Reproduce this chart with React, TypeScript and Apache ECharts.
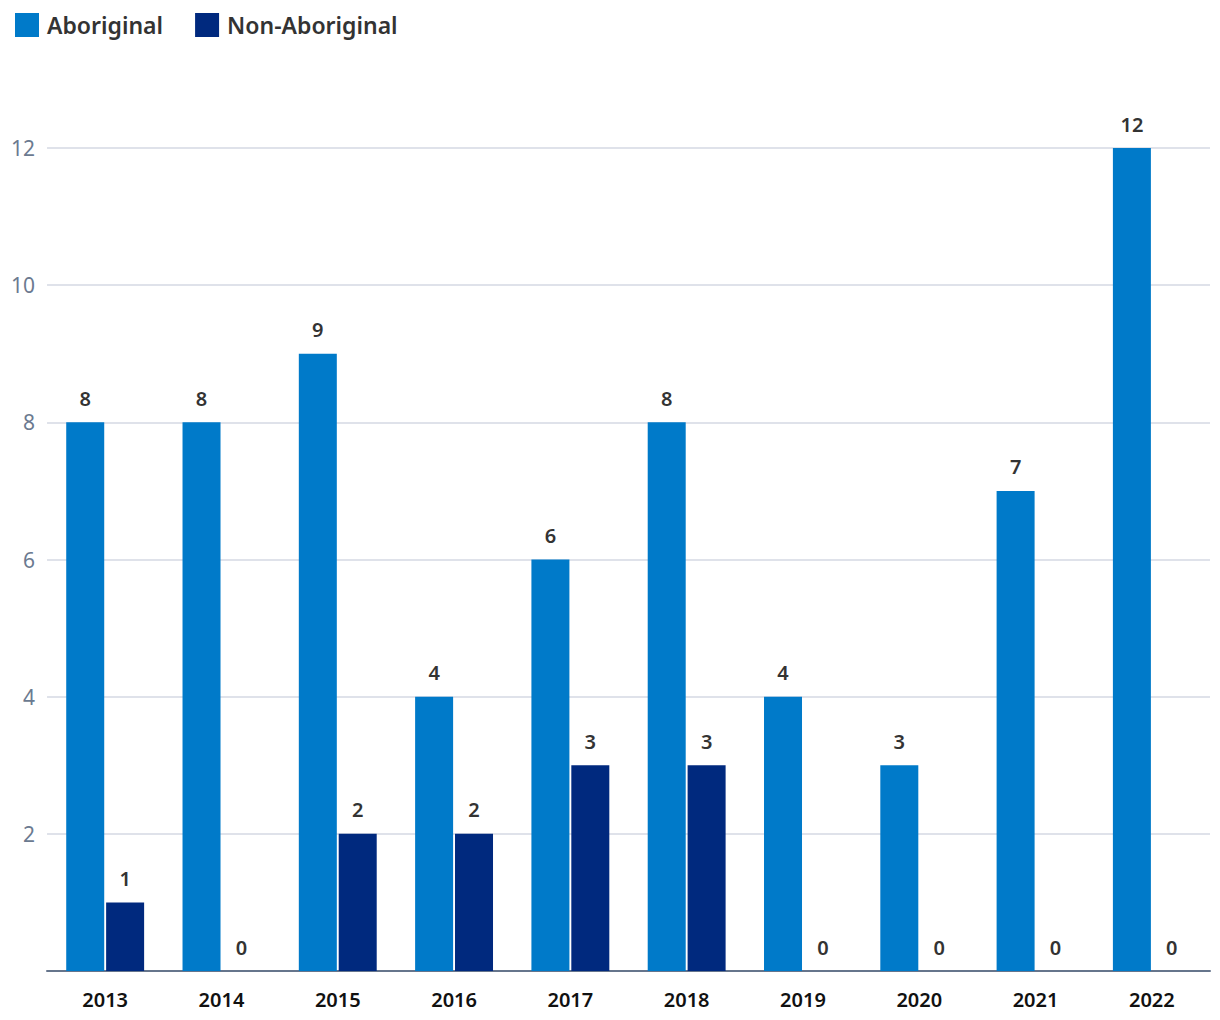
import React, { useEffect, useRef } from "react";
import * as echarts from "echarts";

const categories = ["2013", "2014", "2015", "2016", "2017", "2018", "2019", "2020", "2021", "2022"];
const aboriginal = [8, 8, 9, 4, 6, 8, 4, 3, 7, 12];
const nonAboriginal = [1, 0, 2, 2, 3, 3, 0, 0, 0, 0];
const yTicks = [0, 2, 4, 6, 8, 10, 12];

export default function App() {
  const ref = useRef<HTMLDivElement>(null);
  useEffect(() => {
    if (!ref.current) return;
    const chart = echarts.init(ref.current, undefined, { renderer: "svg" });
    const font = "'Noto Sans', 'Open Sans', sans-serif";
    chart.setOption({
      animation: false,
      textStyle: { fontFamily: font },
      legend: {
        left: 2,
        top: 0,
        itemWidth: 24,
        itemHeight: 24,
        itemGap: 32,
        icon: "rect",
        textStyle: { fontSize: 23, fontWeight: 600, color: "#333", fontFamily: font, padding: [0, 0, 0, 3] },
        data: ["Aboriginal", "Non-Aboriginal"],
      },
      grid: { left: 39, right: 2, top: 140, bottom: 41, containLabel: false },
      xAxis: {
        type: "category",
        data: categories,
        axisLine: { lineStyle: { color: "#66758c", width: 2 } },
        axisTick: { show: false },
        axisLabel: { fontSize: 20, fontWeight: 600, color: "#111", margin: 18, fontFamily: font },
      },
      yAxis: {
        type: "value",
        min: 0,
        max: 12,
        interval: 2,
        axisLine: { show: false },
        axisTick: { show: false },
        axisLabel: {
          fontSize: 21,
          color: "#6b7a90",
          margin: 12,
          fontFamily: font,
          formatter: (v: number) => (yTicks.includes(v) && v !== 0 ? String(v) : ""),
        },
        splitLine: { lineStyle: { color: "#d5d9e3", width: 1.5 } },
      },
      series: [
        {
          name: "Aboriginal",
          type: "bar",
          data: aboriginal,
          barWidth: 38,
          barGap: "5%",
          itemStyle: { color: "#007ac9" },
          label: { show: true, position: "top", distance: 14, fontSize: 20, fontWeight: 600, color: "#333", fontFamily: font },
        },
        {
          name: "Non-Aboriginal",
          type: "bar",
          data: nonAboriginal,
          barWidth: 38,
          itemStyle: { color: "#00297e" },
          label: { show: true, position: "top", distance: 14, fontSize: 20, fontWeight: 600, color: "#333", fontFamily: font },
        },
      ],
    });
    return () => chart.dispose();
  }, []);
  return <div ref={ref} style={{ width: 1204, height: 1004 }} />;
}
